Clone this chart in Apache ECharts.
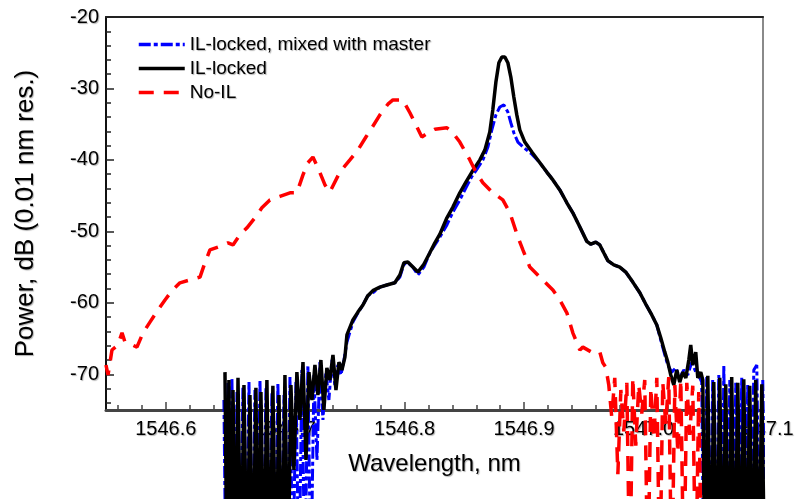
<!DOCTYPE html>
<html>
<head>
<meta charset="utf-8">
<script src="https://cdn.jsdelivr.net/npm/echarts@6/dist/echarts.min.js"></script>
<style>
html,body{margin:0;padding:0;background:#fff;}
#chart{width:798px;height:499px;}
</style>
</head>
<body>
<div id="chart"></div>
<script>
// ---- tick values ----
const xMajorTicks = [1546.6, 1546.7, 1546.8, 1546.9, 1547.0, 1547.1];
const xMinorTicks = [1546.56, 1546.58, 1546.62, 1546.64, 1546.66, 1546.68, 1546.72, 1546.74, 1546.76, 1546.78,
  1546.82, 1546.84, 1546.86, 1546.88, 1546.92, 1546.94, 1546.96, 1546.98, 1547.02, 1547.04, 1547.06, 1547.08];
const yMajorTicks = [-70, -60, -50, -40, -30, -20];
const yMinorTicks = [-74, -72, -68, -66, -64, -62, -58, -56, -54, -52, -48, -46, -44, -42, -38, -36, -34, -32, -28, -26, -24, -22];

// ---- series names ----
const seriesNames = ['IL-locked, mixed with master', 'IL-locked', 'No-IL'];

// ---- IL-locked (black) ----
const ilLockedX = [
1546.6496,1546.6513,1546.6529,1546.6546,1546.6563,1546.6588,1546.6605,1546.6630,1546.6655,1546.6680,
1546.6705,1546.6730,1546.6755,1546.6772,1546.6797,1546.6822,1546.6847,1546.6872,1546.6897,1546.6923,
1546.6948,1546.6973,1546.6998,1546.7023,1546.7048,1546.7073,1546.7098,1546.7123,1546.7149,1546.7174,
1546.7199,1546.7224,1546.7249,1546.7274,1546.7299,1546.7324,1546.7349,1546.7374,1546.7400,1546.7425,
1546.7450,1546.7475,1546.7500,
1546.7517,1546.7567,1546.7609,1546.7651,1546.7692,1546.7734,1546.7793,1546.7851,1546.7918,1546.7960,
1546.7994,1546.8027,1546.8069,1546.8111,1546.8161,1546.8211,1546.8253,1546.8295,1546.8354,1546.8404,
1546.8462,1546.8513,1546.8563,1546.8630,1546.8672,1546.8713,1546.8738,1546.8764,1546.8789,1546.8814,
1546.8839,1546.8864,1546.8889,1546.8914,1546.8939,1546.8964,1546.9006,1546.9065,1546.9132,1546.9190,
1546.9241,1546.9299,1546.9358,1546.9408,1546.9467,1546.9525,1546.9559,1546.9600,1546.9634,1546.9667,
1546.9701,1546.9751,1546.9801,1546.9851,1546.9910,1546.9969,1547.0019,1547.0069,1547.0111,1547.0144,
1547.0178,1547.0203,1547.0228,1547.0253,1547.0278,1547.0303,1547.0328,1547.0354,1547.0379,1547.0395,
1547.0412,1547.0437,1547.0454,1547.0479,
1547.0496,1547.0513,1547.0538,1547.0563,1547.0588,1547.0613,1547.0638,1547.0663,1547.0688,1547.0713,
1547.0738,1547.0764,1547.0789,1547.0814,1547.0839,1547.0864,1547.0889,1547.0914,1547.0939,1547.0964,
1547.0990,1547.1015];
const ilLockedY = [
-69.7,-100,-70.8,-100,-72.2,-100,-70.5,-100,-71.5,-100,
-72.9,-100,-71.9,-100,-72.5,-100,-70.8,-100,-71.6,-100,
-72.9,-100,-70.1,-100,-71.5,-83.4,-69.7,-76.4,-68.3,-82.0,
-69.7,-73.6,-68.7,-72.9,-68.0,-75.0,-69.1,-70.8,-67.3,-72.2,
-68.3,-69.4,-67.6,
-64.5,-62.4,-61.3,-60.3,-59.0,-58.3,-57.8,-57.5,-57.2,-56.1,
-54.4,-54.3,-55.0,-55.7,-54.6,-53.0,-51.6,-50.4,-48.1,-46.6,
-44.6,-43.1,-41.7,-40.0,-38.6,-36.1,-33.0,-29.1,-26.4,-25.6,
-25.6,-26.4,-28.4,-31.2,-33.7,-35.8,-37.5,-38.9,-40.4,-41.7,
-42.8,-44.2,-46.0,-47.4,-49.4,-51.4,-51.8,-51.5,-51.9,-53.0,
-54.1,-54.7,-55.0,-55.7,-57.1,-58.6,-60.2,-61.7,-63.1,-64.9,
-66.9,-68.3,-70.1,-71.5,-69.4,-71.1,-69.7,-70.5,-68.0,-65.9,
-68.7,-66.9,-70.5,-69.7,
-70.8,-100,-70.2,-100,-71.1,-100,-70.5,-100,-71.4,-100,
-70.4,-100,-71.2,-100,-70.7,-100,-71.6,-100,-70.8,-100,
-71.4,-100];

// ---- IL-locked, mixed with master (blue) ----
const ilMixedX = [
1546.6487,1546.6504,1546.6521,1546.6538,1546.6554,1546.6580,1546.6596,1546.6621,1546.6646,1546.6672,
1546.6697,1546.6722,1546.6747,1546.6764,1546.6789,1546.6814,1546.6839,1546.6864,1546.6889,1546.6914,
1546.6939,1546.6964,1546.6990,1546.7015,1546.7040,1546.7065,1546.7090,1546.7115,1546.7140,1546.7165,
1546.7190,1546.7215,1546.7241,1546.7266,1546.7291,1546.7316,1546.7341,1546.7366,1546.7391,1546.7416,
1546.7441,1546.7467,1546.7492,
1546.7517,1546.7567,1546.7609,1546.7651,1546.7692,1546.7734,1546.7793,1546.7851,1546.7918,1546.7960,
1546.7994,1546.8027,1546.8069,1546.8111,1546.8161,1546.8211,1546.8253,1546.8295,1546.8354,1546.8404,
1546.8462,1546.8513,1546.8563,1546.8613,1546.8655,1546.8697,1546.8730,1546.8764,1546.8797,1546.8831,
1546.8864,1546.8889,1546.8914,1546.8948,1546.8998,1546.9065,1546.9132,1546.9190,1546.9241,1546.9299,
1546.9358,1546.9408,1546.9467,1546.9525,1546.9559,1546.9600,1546.9634,1546.9667,1546.9701,1546.9751,
1546.9801,1546.9851,1546.9910,1546.9969,1547.0019,1547.0069,1547.0111,1547.0144,1547.0178,1547.0203,
1547.0236,1547.0270,1547.0303,1547.0337,1547.0370,1547.0404,1547.0437,1547.0471,
1547.0487,1547.0504,1547.0529,1547.0554,1547.0579,1547.0605,1547.0630,1547.0655,1547.0672,1547.0697,
1547.0722,1547.0747,1547.0772,1547.0797,1547.0822,1547.0847,1547.0872,1547.0897,1547.0923,1547.0948,
1547.0973,1547.0998,1547.1023];
const ilMixedY = [
-73.6,-100,-71.1,-100,-70.5,-100,-72.5,-100,-71.9,-100,
-71.1,-100,-72.2,-100,-70.8,-100,-71.9,-100,-72.5,-100,
-71.2,-100,-72.9,-100,-70.4,-100,-71.1,-100,-69.4,-100,
-68.7,-100,-70.1,-82.0,-68.3,-76.4,-69.7,-73.6,-68.0,-71.5,
-68.7,-70.1,-68.0,
-65.5,-62.7,-61.4,-60.3,-59.0,-58.6,-57.8,-57.5,-57.2,-56.4,
-54.6,-54.4,-55.0,-56.1,-55.0,-53.0,-51.9,-50.8,-49.1,-47.3,
-45.6,-43.9,-42.3,-41.1,-40.0,-38.2,-35.8,-33.7,-32.6,-32.3,
-33.3,-34.8,-36.2,-37.5,-38.3,-39.2,-40.4,-41.7,-42.8,-44.2,
-46.0,-47.4,-49.4,-51.4,-51.8,-51.5,-51.9,-53.0,-54.1,-54.7,
-55.0,-55.7,-57.1,-58.6,-60.2,-61.7,-63.1,-65.2,-67.3,-68.7,
-69.7,-69.1,-70.5,-69.4,-70.1,-68.3,-69.7,-70.5,
-71.1,-100,-70.4,-100,-70.8,-100,-70.1,-100,-68.7,-100,
-70.8,-100,-71.2,-100,-70.5,-100,-71.4,-100,-69.4,-68.7,
-100,-70.8,-100];

// ---- No-IL (red) ----
const noILX = [
1546.5500,1546.5517,1546.5550,1546.5600,1546.5634,1546.5659,1546.5709,1546.5759,1546.5810,1546.5868,
1546.5935,1546.5994,1546.6052,1546.6119,1546.6203,1546.6287,1546.6328,1546.6370,1546.6437,1546.6521,
1546.6563,1546.6621,1546.6680,1546.6747,1546.6805,1546.6872,1546.6956,1546.7040,1546.7098,1546.7149,
1546.7190,1546.7232,1546.7274,1546.7333,1546.7374,1546.7458,1546.7542,1546.7609,1546.7676,1546.7726,
1546.7793,1546.7860,1546.7902,1546.7985,1546.8044,1546.8103,1546.8144,1546.8195,1546.8253,1546.8354,
1546.8404,1546.8462,1546.8546,1546.8596,1546.8655,1546.8738,1546.8822,1546.8881,1546.8948,1546.8990,
1546.9048,1546.9132,1546.9241,1546.9299,1546.9358,1546.9408,1546.9467,1546.9492,1546.9575,1546.9634,
1546.9659,1546.9684,
1546.9709,1546.9734,1546.9759,1546.9785,1546.9810,1546.9835,1546.9860,1546.9885,1546.9910,1546.9935,
1546.9960,1546.9985,1547.0010,1547.0036,1547.0061,1547.0086,1547.0111,1547.0136,1547.0161,1547.0186,
1547.0211,1547.0236,1547.0262,1547.0287,1547.0312,1547.0337,1547.0362,1547.0387,1547.0412,1547.0437,
1547.0462,1547.0487];
const noILY = [
-68.7,-70.1,-66.6,-65.9,-64.2,-65.5,-65.8,-66.2,-64.2,-62.7,
-61.0,-59.6,-58.3,-57.2,-56.8,-56.4,-54.4,-52.6,-52.2,-51.6,
-51.9,-50.5,-49.5,-48.1,-46.7,-45.6,-45.1,-44.6,-44.6,-42.1,
-40.4,-39.6,-41.1,-43.5,-44.5,-41.7,-40.0,-38.6,-36.8,-35.5,
-33.7,-32.2,-31.6,-31.6,-33.4,-35.4,-36.8,-36.2,-35.7,-35.5,
-36.2,-37.5,-40.0,-41.7,-43.2,-44.6,-45.6,-47.4,-50.8,-52.6,
-55.0,-56.4,-58.2,-59.6,-61.4,-64.2,-66.6,-66.2,-67.0,-66.9,
-68.4,-69.0,
-71.5,-76.0,-70.5,-84.0,-72.2,-78.0,-71.2,-100,-70.5,-80.0,
-71.5,-75.5,-70.8,-100,-71.9,-79.0,-70.5,-100,-71.1,-77.0,
-70.4,-100,-71.5,-81.0,-70.8,-100,-71.2,-78.5,-71.6,-100,
-72.5,-100];

function pairs(xs, ys) { return xs.map((x, i) => [x, ys[i]]); }

const FONT = 'Liberation Sans, Arial, sans-serif';
const X_MIN = 1546.55, X_MAX = 1547.1, Y_MIN = -75, Y_MAX = -20;
const SHADOW = {textShadowColor: 'rgba(0,0,0,0.3)', textShadowBlur: 1, textShadowOffsetX: 1, textShadowOffsetY: 1};

const chart = echarts.init(document.getElementById('chart'), null, {renderer: 'canvas'});
chart.setOption({
  animation: false,
  backgroundColor: '#fff',
  textStyle: {fontFamily: FONT},
  grid: {left: 106, right: 35, top: 17, bottom: 89, containLabel: false},
  legend: {
    orient: 'vertical', left: 132, top: 30, itemGap: 5, itemWidth: 46, itemHeight: 14,
    itemStyle: {opacity: 0},
    lineStyle: {width: 3.5},
    textStyle: Object.assign({fontSize: 19, color: '#000', fontFamily: FONT}, SHADOW),
    data: seriesNames
  },
  xAxis: [
    {
      type: 'value', min: X_MIN, max: X_MAX, position: 'bottom',
      axisLine: {show: true, onZero: false, lineStyle: {color: '#444', width: 3}},
      axisTick: {show: true, inside: true, length: 8, customValues: xMajorTicks, lineStyle: {color: '#444', width: 1.5}},
      axisLabel: Object.assign({customValues: xMajorTicks, formatter: v => v.toFixed(1), fontSize: 20, color: '#000', margin: 9, fontFamily: FONT}, SHADOW),
      splitLine: {show: false},
      name: 'Wavelength, nm', nameLocation: 'middle', nameGap: 42,
      nameTextStyle: Object.assign({fontSize: 24, color: '#000', fontFamily: FONT}, SHADOW)
    },
    {
      type: 'value', min: X_MIN, max: X_MAX, position: 'bottom',
      axisLine: {show: false, onZero: false},
      axisTick: {show: true, inside: true, length: 5, customValues: xMinorTicks, lineStyle: {color: '#444', width: 1.5}},
      axisLabel: {show: false}, splitLine: {show: false}
    },
    {
      type: 'value', min: X_MIN, max: X_MAX, position: 'top',
      axisLine: {show: true, onZero: false, lineStyle: {color: '#222', width: 2}},
      axisTick: {show: false}, axisLabel: {show: false}, splitLine: {show: false}
    }
  ],
  yAxis: [
    {
      type: 'value', min: Y_MIN, max: Y_MAX, position: 'left',
      axisLine: {show: true, onZero: false, lineStyle: {color: '#111', width: 2}},
      axisTick: {show: true, inside: true, length: 8, customValues: yMajorTicks, lineStyle: {color: '#222', width: 1.5}},
      axisLabel: Object.assign({customValues: yMajorTicks, fontSize: 20, color: '#000', margin: 7, fontFamily: FONT}, SHADOW),
      splitLine: {show: false},
      name: 'Power, dB (0.01 nm res.)', nameLocation: 'middle', nameGap: 67,
      nameTextStyle: Object.assign({fontSize: 26, color: '#000', fontFamily: FONT}, SHADOW)
    },
    {
      type: 'value', min: Y_MIN, max: Y_MAX, position: 'left',
      axisLine: {show: false, onZero: false},
      axisTick: {show: true, inside: true, length: 5, customValues: yMinorTicks, lineStyle: {color: '#222', width: 1.5}},
      axisLabel: {show: false}, splitLine: {show: false}
    },
    {
      type: 'value', min: Y_MIN, max: Y_MAX, position: 'right',
      axisLine: {show: true, onZero: false, lineStyle: {color: '#8a8a8a', width: 2}},
      axisTick: {show: false}, axisLabel: {show: false}, splitLine: {show: false}
    }
  ],
  series: [
    {
      name: seriesNames[0], type: 'line', xAxisIndex: 0, yAxisIndex: 0,
      data: pairs(ilMixedX, ilMixedY), symbol: 'none', clip: false,
      lineStyle: {color: '#0000ff', width: 3, type: [12, 3, 4, 3]},
      itemStyle: {color: '#0000ff'}, z: 3
    },
    {
      name: seriesNames[1], type: 'line', xAxisIndex: 0, yAxisIndex: 0,
      data: pairs(ilLockedX, ilLockedY), symbol: 'none', clip: false,
      lineStyle: {color: '#000000', width: 3.5},
      itemStyle: {color: '#000000'}, z: 4
    },
    {
      name: seriesNames[2], type: 'line', xAxisIndex: 0, yAxisIndex: 0,
      data: pairs(noILX, noILY), symbol: 'none', clip: false,
      lineStyle: {color: '#ff0000', width: 3.5, type: [15, 10]},
      itemStyle: {color: '#ff0000'}, z: 5
    }
  ]
});
</script>
</body>
</html>
